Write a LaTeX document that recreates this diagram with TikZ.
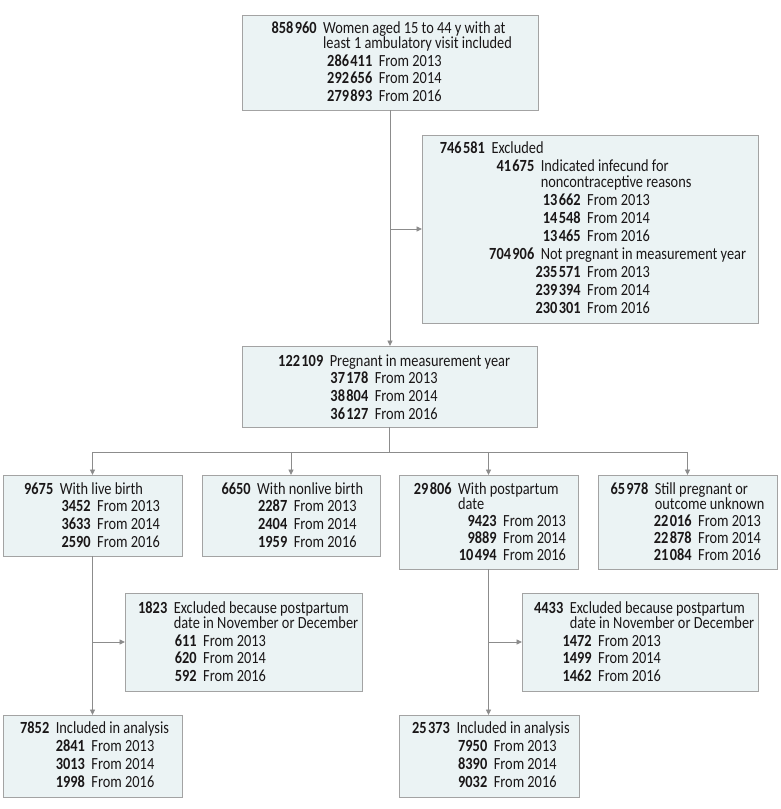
\documentclass[tikz,border=0pt]{standalone}
\usepackage{fontspec}
\setmainfont{Carlito}[FakeStretch=0.845]
\usetikzlibrary{arrows.meta,calc}
\definecolor{boxfill}{HTML}{EBF3F4}
\definecolor{boxline}{HTML}{A3A3A3}
\definecolor{conncol}{HTML}{8C8C8C}
\definecolor{txt}{HTML}{1A1718}
\newcommand\fline[3]{\makebox[#1pt][r]{\textbf{#2}}\hspace{6.5pt}#3}
\newcommand\fcont[2]{\hspace*{\dimexpr#1pt+6.5pt\relax}#2}
\newcommand\fst{\rule{0pt}{12pt}}
\newcommand\ts{\kern1.4pt}
\tikzset{
  fbox/.style={draw=boxline, fill=boxfill, line width=0.8pt, inner sep=0pt, outer sep=0pt, anchor=north west, rectangle},
  ftext/.style={anchor=north west, inner sep=0pt, outer sep=0pt, align=left, text=txt, font=\fontsize{17}{17.6}\selectfont},
  conn/.style={draw=conncol, line width=0.9pt},
  arr/.style={conn, -{Triangle[length=5.5pt,width=5pt]}}
}
\begin{document}
\begin{tikzpicture}[x=1pt,y=-1pt]
\useasboundingbox (0,0) rectangle (780,809);
% boxes
\node[fbox, minimum width=296pt, minimum height=95pt] (top) at (242,15) {};
\node[fbox, minimum width=336pt, minimum height=188pt] (excl) at (422,135) {};
\node[fbox, minimum width=295pt, minimum height=81pt] (mid) at (242,346) {};
\node[fbox, minimum width=179pt, minimum height=81pt] (b1) at (3,475) {};
\node[fbox, minimum width=178pt, minimum height=81pt] (b2) at (202,475) {};
\node[fbox, minimum width=179pt, minimum height=94pt] (b3) at (399,475) {};
\node[fbox, minimum width=179pt, minimum height=94pt] (b4) at (598,475) {};
\node[fbox, minimum width=237pt, minimum height=98pt] (ex1) at (125,593) {};
\node[fbox, minimum width=236pt, minimum height=98pt] (ex2) at (522,593) {};
\node[fbox, minimum width=179pt, minimum height=82pt] (f1) at (3,715) {};
\node[fbox, minimum width=180pt, minimum height=82pt] (f2) at (399,715) {};
% texts
\node[ftext] (ttop) at (242,21.5) {\fst\fline{74.7}{858\ts960}{Women aged 15 to 44 y with at}\\[-2.6pt]
\fcont{74.7}{least 1 ambulatory visit included}\\
\fline{130.3}{286\ts411}{From 2013}\\
\fline{130.3}{292\ts656}{From 2014}\\
\fline{130.3}{279\ts893}{From 2016}};
\node[ftext, font=\fontsize{17}{18}\selectfont] (texcl) at (422,141.3) {\fst\fline{63}{746\ts581}{Excluded}\\
\fline{112.3}{41\ts675}{Indicated infecund for}\\[-1.4pt]
\fcont{112.3}{noncontraceptive reasons}\\
\fline{158.7}{13\ts662}{From 2013}\\
\fline{158.7}{14\ts548}{From 2014}\\
\fline{158.7}{13\ts465}{From 2016}\\
\fline{112.3}{704\ts906}{Not pregnant in measurement year}\\
\fline{158.7}{235\ts571}{From 2013}\\
\fline{158.7}{239\ts394}{From 2014}\\
\fline{158.7}{230\ts301}{From 2016}};
\node[ftext, font=\fontsize{17}{17.8}\selectfont] (tmid) at (242,354) {\fst\fline{81.3}{122\ts109}{Pregnant in measurement year}\\
\fline{126.3}{37\ts178}{From 2013}\\
\fline{126.3}{38\ts804}{From 2014}\\
\fline{126.3}{36\ts127}{From 2016}};
\node[ftext, font=\fontsize{17}{17.8}\selectfont] (tb1) at (3,482) {\fst\fline{50.3}{9675}{With live birth}\\
\fline{87.7}{3452}{From 2013}\\
\fline{87.7}{3633}{From 2014}\\
\fline{87.7}{2590}{From 2016}};
\node[ftext, font=\fontsize{17}{17.8}\selectfont] (tb2) at (202,482) {\fst\fline{48.7}{6650}{With nonlive birth}\\
\fline{85.3}{2287}{From 2013}\\
\fline{85.3}{2404}{From 2014}\\
\fline{85.3}{1959}{From 2016}};
\node[ftext, font=\fontsize{17}{17}\selectfont] (tb3) at (399,482.7) {\fst\fline{52.7}{29\ts806}{With postpartum}\\[-2pt]
\fcont{52.7}{date}\\
\fline{97.7}{9423}{From 2013}\\
\fline{97.7}{9889}{From 2014}\\
\fline{97.7}{10\ts494}{From 2016}};
\node[ftext, font=\fontsize{17}{17}\selectfont] (tb4) at (598,482.7) {\fst\fline{50.3}{65\ts978}{Still pregnant or}\\[-2pt]
\fcont{50.3}{outcome unknown}\\
\fline{93.7}{22\ts016}{From 2013}\\
\fline{93.7}{22\ts878}{From 2014}\\
\fline{93.7}{21\ts084}{From 2016}};
\node[ftext, font=\fontsize{17}{17.8}\selectfont] (tex1) at (125,601.3) {\fst\fline{42.3}{1823}{Excluded because postpartum}\\[-2.8pt]
\fcont{42.3}{date in November or December}\\
\fline{71.7}{611}{From 2013}\\
\fline{71.7}{620}{From 2014}\\
\fline{71.7}{592}{From 2016}};
\node[ftext, font=\fontsize{17}{17.8}\selectfont] (tex2) at (522,601.3) {\fst\fline{41.3}{4433}{Excluded because postpartum}\\[-2.8pt]
\fcont{41.3}{date in November or December}\\
\fline{69.7}{1472}{From 2013}\\
\fline{69.7}{1499}{From 2014}\\
\fline{69.7}{1462}{From 2016}};
\node[ftext, font=\fontsize{17}{18}\selectfont] (tf1) at (3,721.3) {\fst\fline{46.3}{7852}{Included in analysis}\\
\fline{82}{2841}{From 2013}\\
\fline{82}{3013}{From 2014}\\
\fline{82}{1998}{From 2016}};
\node[ftext, font=\fontsize{17}{18}\selectfont] (tf2) at (399,721.3) {\fst\fline{51}{25\ts373}{Included in analysis}\\
\fline{88.3}{7950}{From 2013}\\
\fline{88.3}{8390}{From 2014}\\
\fline{88.3}{9032}{From 2016}};
% connectors
\draw[arr] (top.south) -- (top.south |- mid.north);
\draw[arr] (top.south |- excl.west) -- (excl.west);
\coordinate (split) at ($(mid.south)+(0,25)$);
\draw[conn] (mid.south) -- (split);
\draw[conn] (b1.north |- split) -- (b4.north |- split);
\foreach \n in {b1,b2,b3,b4} \draw[arr] (\n.north |- split) -- (\n.north);
\draw[arr] (b1.south) -- (f1.north);
\draw[arr] (b1.south |- ex1.west) -- (ex1.west);
\draw[arr] (b3.south) -- (b3.south |- f2.north);
\draw[arr] (b3.south |- ex2.west) -- (ex2.west);
\end{tikzpicture}
\end{document}
